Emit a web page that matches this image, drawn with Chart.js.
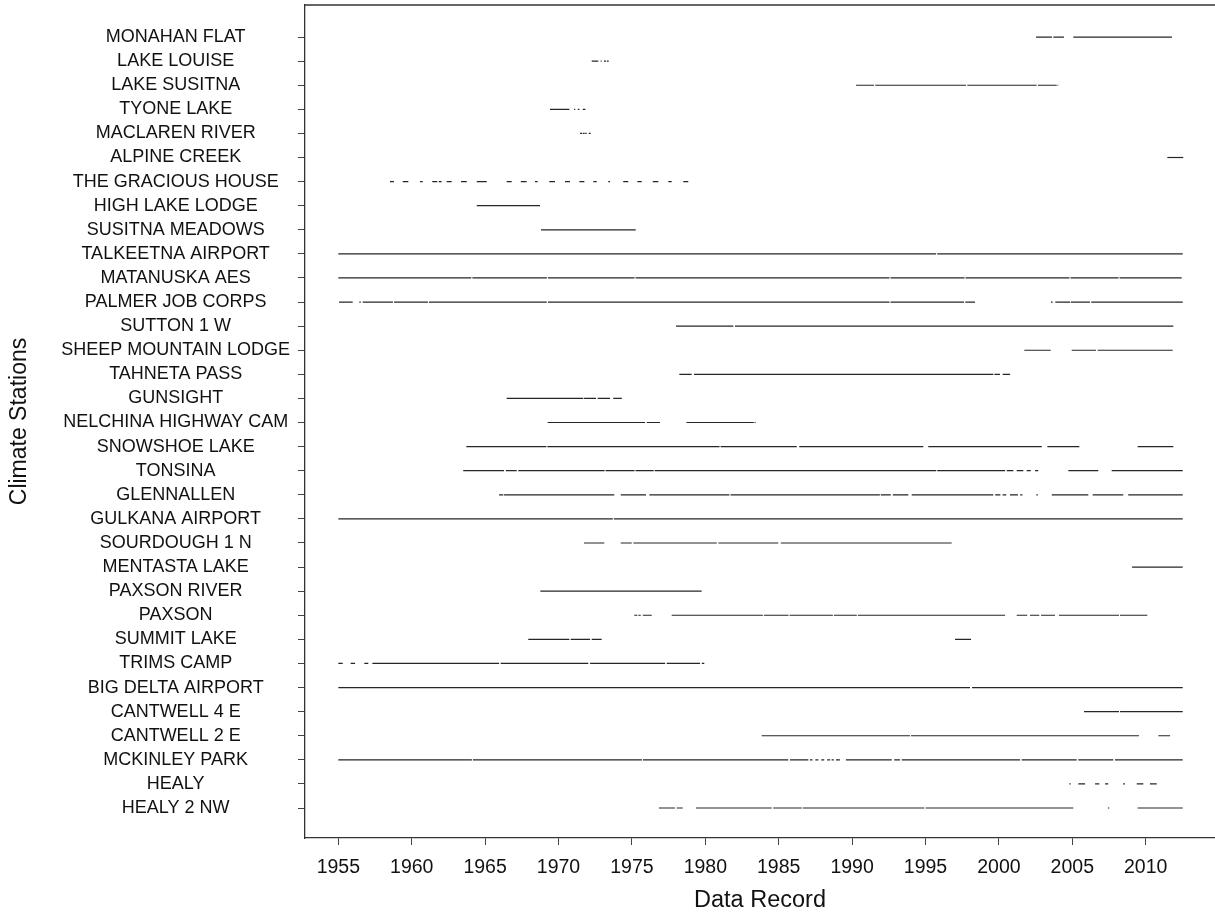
<!DOCTYPE html>
<html lang="en">
<head>
    <meta charset="UTF-8">
    <title>Climate Stations Data Record</title>
    <script src="https://cdn.jsdelivr.net/npm/chart.js@4.4.1/dist/chart.umd.min.js"></script>
    <style>
        body { margin: 0; background: #fff; }
        #wrap { width: 1215px; height: 913px; }
    </style>
</head>
<body>
    <div id="wrap"><canvas id="recordChart"></canvas></div>
    <script>
        // stations, top to bottom
        const stations = [
            'MONAHAN FLAT', 'LAKE LOUISE', 'LAKE SUSITNA', 'TYONE LAKE', 'MACLAREN RIVER',
            'ALPINE CREEK', 'THE GRACIOUS HOUSE', 'HIGH LAKE LODGE', 'SUSITNA MEADOWS',
            'TALKEETNA AIRPORT', 'MATANUSKA AES', 'PALMER JOB CORPS', 'SUTTON 1 W',
            'SHEEP MOUNTAIN LODGE', 'TAHNETA PASS', 'GUNSIGHT', 'NELCHINA HIGHWAY CAM',
            'SNOWSHOE LAKE', 'TONSINA', 'GLENNALLEN', 'GULKANA AIRPORT', 'SOURDOUGH 1 N',
            'MENTASTA LAKE', 'PAXSON RIVER', 'PAXSON', 'SUMMIT LAKE', 'TRIMS CAMP',
            'BIG DELTA AIRPORT', 'CANTWELL 4 E', 'CANTWELL 2 E', 'MCKINLEY PARK', 'HEALY',
            'HEALY 2 NW'
        ];

        const xTicks = [1955, 1960, 1965, 1970, 1975, 1980, 1985, 1990, 1995, 2000, 2005, 2010];

        // record periods [start, end] in decimal years
        const monahanFlat = [[2002.53, 2003.62], [2003.71, 2004.43], [2005.07, 2011.79]];
        const lakeLouise = [[1972.26, 1972.71], [1972.87, 1972.94], [1973.10, 1973.24], [1973.30, 1973.42]];
        const lakeSusitna = [[1990.27, 1991.49], [1991.58, 1997.76], [1997.85, 2002.57], [2002.66, 2003.94], [2004.0, 2004.05]];
        const tyoneLake = [[1969.42, 1970.74], [1971.06, 1971.14], [1971.31, 1971.42], [1971.65, 1971.83]];
        const maclarenRiver = [[1971.46, 1971.6], [1971.65, 1971.78], [1971.82, 1971.92], [1972.06, 1972.19]];
        const alpineCreek = [[2011.47, 2012.56]];
        const graciousHouse = [
            [1958.52, 1958.79], [1959.39, 1959.77], [1960.57, 1960.75], [1961.40, 1961.74],
            [1961.84, 1962.04], [1962.38, 1962.72], [1963.36, 1963.75], [1964.43, 1965.11],
            [1966.47, 1966.81], [1967.43, 1967.83], [1968.40, 1968.58], [1969.37, 1969.76],
            [1970.44, 1970.78], [1971.42, 1971.76], [1972.37, 1972.60], [1973.39, 1973.51],
            [1974.41, 1974.75], [1975.37, 1975.67], [1976.42, 1976.80], [1977.48, 1977.71],
            [1978.50, 1978.84]
        ];
        const highLakeLodge = [[1964.43, 1968.74]];
        const susitnaMeadows = [[1968.81, 1975.26]];
        const talkeetnaAirport = [[1955.0, 1995.72], [1995.8, 2012.52]];
        const matanuskaAes = [[1955.0, 1964.06], [1964.13, 1969.21], [1969.28, 1975.18], [1975.25, 1992.55],
            [1992.62, 1997.66], [1997.73, 2004.81], [2004.88, 2008.15], [2008.22, 2012.45]];
        const palmerJobCorps = [[1955.05, 1955.98], [1956.43, 1956.53], [1956.66, 1958.72], [1958.8, 1961.1],
            [1961.17, 1969.2], [1969.28, 1992.55], [1992.62, 1997.62], [1997.71, 1998.37],
            [2003.55, 2003.66], [2003.84, 2004.84], [2004.89, 2006.2], [2006.29, 2012.52]];
        const sutton1W = [[1978.0, 1981.91], [1982.02, 2011.88]];
        const sheepMountainLodge = [[2001.73, 2003.53], [2004.96, 2006.61], [2006.73, 2011.84]];
        const tahnetaPass = [[1978.23, 1979.07], [1979.23, 1999.62], [1999.69, 2000.07], [2000.26, 2000.76]];
        const gunsight = [[1966.47, 1971.69], [1971.74, 1972.55], [1972.67, 1973.51], [1973.73, 1974.31]];
        const nelchinaHighwayCam = [[1969.26, 1975.89], [1976.01, 1976.91], [1978.71, 1983.3], [1983.35, 1983.43]];
        const snowshoeLake = [[1963.72, 1969.17], [1969.24, 1980.97], [1981.04, 1986.23], [1986.40, 1994.85],
            [1995.19, 2002.92], [2003.30, 2005.48], [2009.45, 2011.88]];
        const tonsina = [[1963.51, 1966.29], [1966.42, 1967.15], [1967.26, 1973.14], [1973.21, 1975.18],
            [1975.25, 1976.48], [1976.55, 1995.73], [1995.8, 2000.42], [2000.53, 2000.98],
            [2001.21, 2001.66], [2001.89, 2002.17], [2002.46, 2002.68], [2004.73, 2006.77],
            [2007.68, 2012.52]];
        const glennallen = [[1965.95, 1966.24], [1966.29, 1973.80], [1974.24, 1975.96], [1976.19, 1981.64],
            [1981.72, 1991.89], [1991.95, 1992.63], [1992.77, 1993.83], [1994.06, 1999.62],
            [1999.75, 2000.1], [2000.25, 2000.5], [2000.75, 2001.3], [2001.45, 2001.6],
            [2002.55, 2002.65], [2003.60, 2006.09], [2006.39, 2008.47], [2008.81, 2012.52]];
        const gulkanaAirport = [[1955.0, 1973.7], [1973.77, 2012.52]];
        const sourdough1N = [[1971.74, 1973.12], [1974.24, 1974.99], [1975.10, 1980.78], [1980.89, 1984.97], [1985.14, 1996.78]];
        const mentastaLake = [[2009.07, 2012.52]];
        const paxsonRiver = [[1968.76, 1979.75]];
        const paxson = [[1975.16, 1975.37], [1975.44, 1975.60], [1975.74, 1976.35], [1977.71, 1983.92],
            [1983.99, 1985.67], [1985.74, 1988.69], [1988.76, 1990.32], [1990.39, 2000.42],
            [2001.21, 2001.93], [2002.12, 2002.75], [2002.87, 2003.82], [2004.09, 2008.18],
            [2008.25, 2010.11]];
        const summitLake = [[1967.94, 1970.74], [1970.83, 1972.15], [1972.26, 1972.94], [1997.01, 1998.10]];
        const trimsCamp = [[1955.0, 1955.30], [1955.84, 1956.14], [1956.77, 1957.04], [1957.32, 1965.95],
            [1966.06, 1972.03], [1972.15, 1977.26], [1977.37, 1979.64], [1979.76, 1979.93]];
        const bigDeltaAirport = [[1955.0, 1998.03], [1998.17, 2012.52]];
        const cantwell4E = [[2005.80, 2008.18], [2008.25, 2012.52]];
        const cantwell2E = [[1983.84, 1993.94], [1994.01, 2009.54], [2010.86, 2011.66]];
        const mckinleyPark = [[1955.0, 1964.1], [1964.17, 1975.68], [1975.75, 1985.65], [1985.77, 1987.02],
            [1987.13, 1987.3], [1987.5, 1987.7], [1987.9, 1988.1], [1988.3, 1988.5], [1988.6, 1988.75],
            [1988.9, 1989.17], [1989.58, 1992.70], [1992.87, 1993.26], [1993.38, 2001.44],
            [2001.55, 2005.30], [2005.41, 2007.79], [2007.91, 2012.52]];
        const healy = [[2004.80, 2004.89], [2005.41, 2005.87], [2006.55, 2006.84], [2007.23, 2007.45],
            [2008.47, 2008.59], [2009.39, 2009.84], [2010.29, 2010.75]];
        const healy2NW = [[1976.84, 1977.93], [1978.05, 1978.46], [1979.37, 1984.52], [1984.63, 1986.57],
            [1986.64, 1994.92], [1995.01, 2005.07], [2007.42, 2007.52], [2009.45, 2012.52]];

        const records = [
            monahanFlat, lakeLouise, lakeSusitna, tyoneLake, maclarenRiver, alpineCreek,
            graciousHouse, highLakeLodge, susitnaMeadows, talkeetnaAirport, matanuskaAes,
            palmerJobCorps, sutton1W, sheepMountainLodge, tahnetaPass, gunsight,
            nelchinaHighwayCam, snowshoeLake, tonsina, glennallen, gulkanaAirport,
            sourdough1N, mentastaLake, paxsonRiver, paxson, summitLake, trimsCamp,
            bigDeltaAirport, cantwell4E, cantwell2E, mckinleyPark, healy, healy2NW
        ];

        // one line dataset per station, null y breaks the line between periods
        const datasets = records.map((segs, i) => ({
            label: stations[i],
            data: segs.flatMap(([s, e]) => [{ x: s, y: i }, { x: e, y: i }, { x: e, y: null }]),
            borderColor: '#262626',
            borderWidth: 1.2,
            borderCapStyle: 'butt',
            pointRadius: 0,
            spanGaps: false,
            tension: 0
        }));

        const font = '"Liberation Sans", Arial, sans-serif';

        // top edge of the plot box
        const topBorder = {
            id: 'topBorder',
            afterDraw(chart) {
                const { ctx, chartArea } = chart;
                ctx.save();
                ctx.strokeStyle = '#333';
                ctx.lineWidth = 1.3;
                ctx.beginPath();
                ctx.moveTo(chartArea.left, chartArea.top);
                ctx.lineTo(chartArea.right, chartArea.top);
                ctx.stroke();
                ctx.restore();
            }
        };

        new Chart(document.getElementById('recordChart'), {
            type: 'line',
            data: { datasets: datasets },
            plugins: [topBorder],
            options: {
                responsive: true,
                maintainAspectRatio: false,
                animation: false,
                layout: { padding: { top: 5, right: 0, left: 0, bottom: 0 } },
                plugins: {
                    legend: { display: false },
                    tooltip: { enabled: false }
                },
                scales: {
                    x: {
                        type: 'linear',
                        min: 1952.73,
                        max: 2014.72,
                        afterBuildTicks: s => { s.ticks = xTicks.map(v => ({ value: v })); },
                        afterFit: s => { s.height = 75; s.paddingLeft = 0; s.paddingRight = 0; },
                        grid: { drawOnChartArea: false, drawTicks: true, tickLength: 7, color: '#444' },
                        border: { display: true, color: '#333', width: 1.3 },
                        ticks: {
                            color: '#111',
                            padding: 11,
                            maxRotation: 0,
                            font: { family: font, size: 19.5 },
                            callback: v => String(v)
                        },
                        title: {
                            display: true,
                            text: 'Data Record',
                            color: '#111',
                            font: { family: font, size: 23.5, lineHeight: 1.1 },
                            padding: { top: 0, bottom: 0 }
                        }
                    },
                    y: {
                        type: 'linear',
                        reverse: true,
                        min: -1.33,
                        max: 33.245,
                        afterBuildTicks: s => { s.ticks = stations.map((n, i) => ({ value: i })); },
                        afterFit: s => { s.width = 305; s.paddingTop = 0; s.paddingBottom = 0; },
                        grid: { drawOnChartArea: false, drawTicks: true, tickLength: 7, color: '#444' },
                        border: { display: true, color: '#333', width: 1.3 },
                        ticks: {
                            color: '#111',
                            padding: 8,
                            crossAlign: 'center',
                            autoSkip: false,
                            font: { family: font, size: 18 },
                            callback: v => stations[v]
                        },
                        title: {
                            display: true,
                            text: 'Climate Stations',
                            color: '#111',
                            font: { family: font, size: 23 },
                            padding: { top: 6, bottom: 0 }
                        }
                    }
                }
            }
        });
    </script>
</body>
</html>
